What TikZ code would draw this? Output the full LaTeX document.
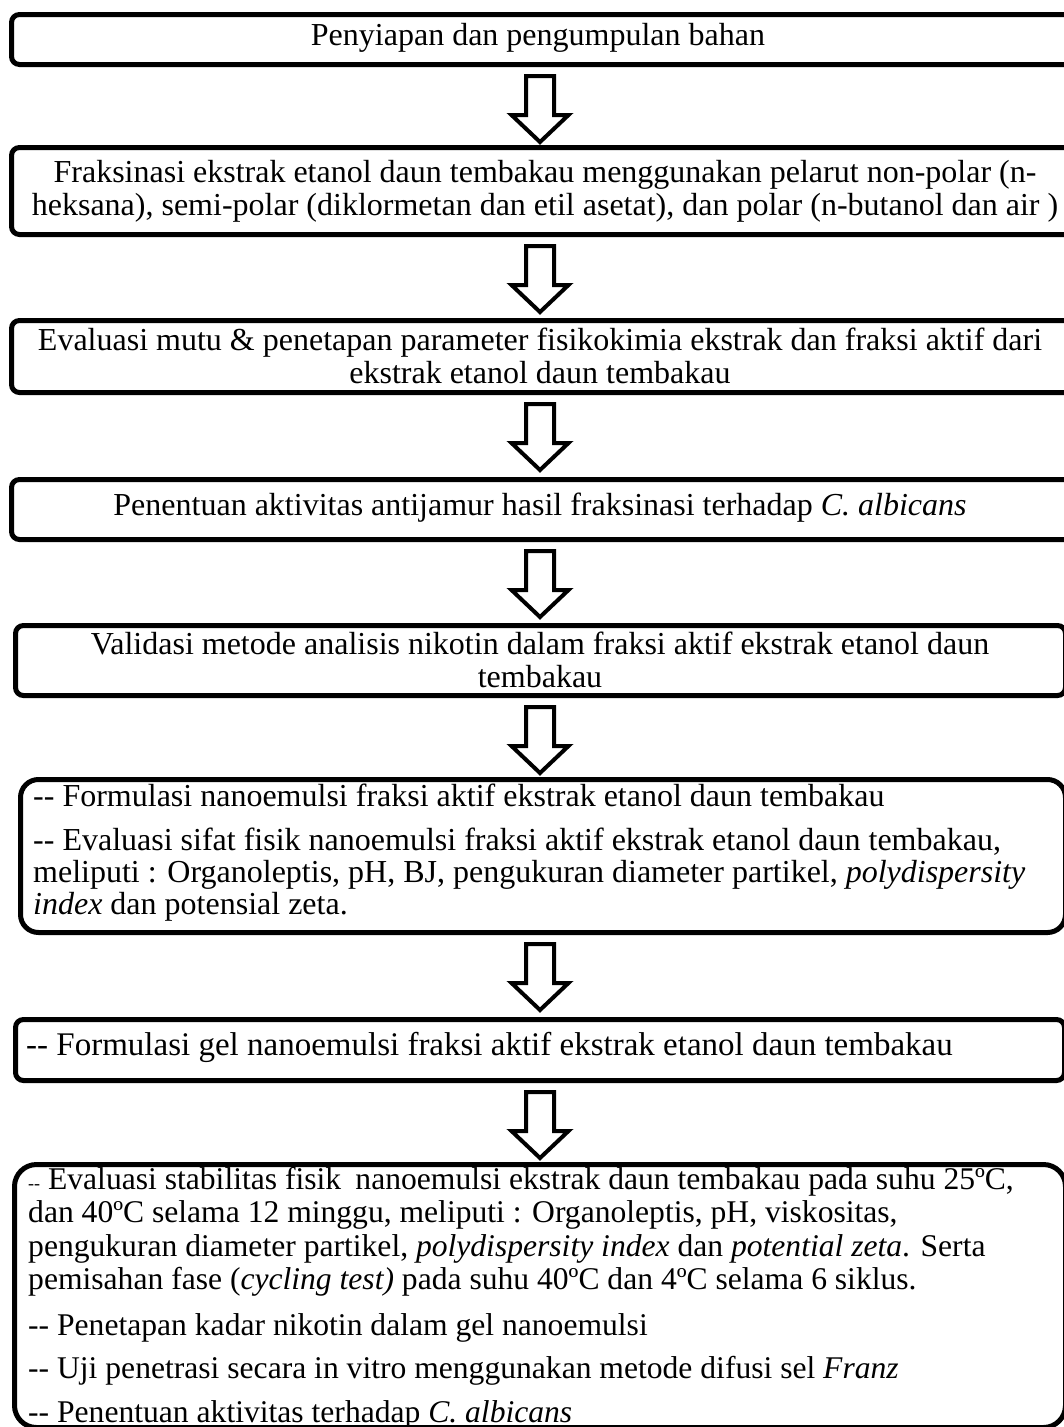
\documentclass[tikz,border=0pt]{standalone}
\usepackage{fontspec}
\setmainfont{Liberation Serif}
\usetikzlibrary{calc}
\tikzset{
  box/.style={draw=black, line width=5pt, rounded corners=8pt, inner sep=0pt, anchor=north west},
  bigbox/.style={box, rounded corners=18pt},
  txt/.style={inner sep=0pt, font=\fontsize{32}{33}\selectfont},
  blockarrow/.style={draw=black, line width=4pt, fill=white, line join=miter}
}
\newcommand{\blockarr}[2]{%
  \draw[blockarrow] let \p1=(#1.south), \p2=(#2.north) in
    ($(540,\y1)+(-14,9)$) -- ++(28,0) -- ++(0,39) -- ++(14.5,0) -- ++(-28.5,27) -- ++(-28.5,-27) -- ++(14.5,0) -- cycle;}
\begin{document}
\begin{tikzpicture}[x=1pt,y=-1pt]
\useasboundingbox (0,0) rectangle (1064,1427);
% boxes
\node[box, minimum width=1062pt, minimum height=50pt] (b1) at (9,12) {};
\node[box, minimum width=1062pt, minimum height=87pt] (b2) at (9,145) {};
\node[box, minimum width=1062pt, minimum height=72pt] (b3) at (9,318) {};
\node[box, minimum width=1062pt, minimum height=60pt] (b4) at (9,477) {};
\node[box, minimum width=1050pt, minimum height=70pt] (b5) at (13,623) {};
\node[bigbox, minimum width=1045pt, minimum height=153pt] (b6) at (18,777) {};
\node[box, minimum width=1049pt, minimum height=61pt] (b7) at (13,1017) {};
\node[bigbox, rounded corners=22pt, minimum width=1051pt, minimum height=263pt] (b8) at (12,1162) {};
% texts
\node[txt, align=center] (t1) at (538,38) {Penyiapan dan pengumpulan bahan};
\node[txt, align=center] (t2) at (545,191) {Fraksinasi ekstrak etanol daun tembakau menggunakan pelarut non-polar (n-\\heksana), semi-polar (diklormetan dan etil asetat), dan polar (n-butanol dan air )};
\node[txt, align=center] (t3) at (540,356) {Evaluasi mutu \& penetapan parameter fisikokimia ekstrak dan fraksi aktif dari\\ekstrak etanol daun tembakau};
\node[txt, align=center] (t4) at (540,508) {Penentuan aktivitas antijamur hasil fraksinasi terhadap \textit{C. albicans}};
\node[txt, align=center] (t5) at (540,660) {Validasi metode analisis nikotin dalam fraksi aktif ekstrak etanol daun\\tembakau};
\node[txt, font=\fontsize{32}{32}\selectfont, align=left, anchor=north west] (t6) at (33,784) {-{}- Formulasi nanoemulsi fraksi aktif ekstrak etanol daun tembakau\\[12pt]
-{}- Evaluasi sifat fisik nanoemulsi fraksi aktif ekstrak etanol daun tembakau,\\
meliputi : Organoleptis, pH, BJ, pengukuran diameter partikel, \textit{polydispersity}\\
\textit{index} dan potensial zeta.};
\node[txt, font=\fontsize{33}{33}\selectfont, anchor=west] (t7) at (26,1047) {-{}- Formulasi gel nanoemulsi fraksi aktif ekstrak etanol daun tembakau};
\node[txt, font=\fontsize{31.6}{33.5}\selectfont, align=left, anchor=north west] (t8) at (28,1167) {{\fontsize{18}{32}\selectfont -{}-} Evaluasi stabilitas fisik\hspace{0.45em}nanoemulsi ekstrak daun tembakau pada suhu 25ºC,\\
dan 40ºC selama 12 minggu, meliputi : Organoleptis, pH, viskositas,\\
pengukuran diameter partikel, \textit{polydispersity index} dan \textit{potential zeta}. Serta\\
pemisahan fase (\textit{cycling test)} pada suhu 40ºC dan 4ºC selama 6 siklus.\\[12pt]
-{}- Penetapan kadar nikotin dalam gel nanoemulsi\\[10pt]
-{}- Uji penetrasi secara in vitro menggunakan metode difusi sel \textit{Franz}\\[10pt]
-{}- Penentuan aktivitas terhadap \textit{C. albicans}};
% arrows
\blockarr{b1}{b2}
\blockarr{b2}{b3}
\blockarr{b3}{b4}
\blockarr{b4}{b5}
\blockarr{b5}{b6}
\blockarr{b6}{b7}
\blockarr{b7}{b8}
\end{tikzpicture}
\end{document}
